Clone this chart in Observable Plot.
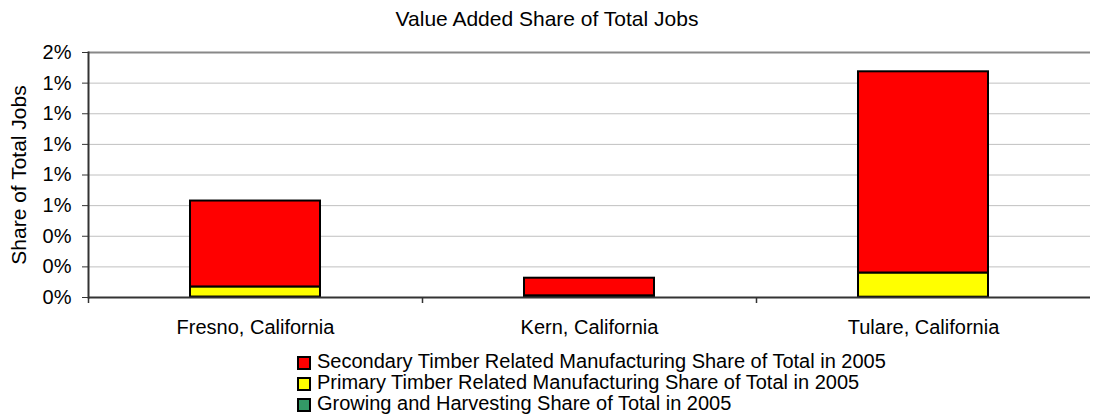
<!DOCTYPE html>
<html>
<head>
<meta charset="utf-8">
<script src="https://cdn.jsdelivr.net/npm/d3@7"></script>
<script src="https://cdn.jsdelivr.net/npm/@observablehq/plot@0.6"></script>
<style>
  html, body { margin: 0; padding: 0; background: #fff; }
  body { width: 1094px; height: 416px; overflow: hidden; font-family: "Liberation Sans", Arial, sans-serif; color: #000; }
  #title { height: 31px; box-sizing: border-box; padding-top: 7px; line-height: 24px; font-size: 21px; text-align: center; }
  #legend { padding-left: 297px; font-size: 20px; line-height: 21px; margin-top: -2px; }
  .item { display: flex; align-items: flex-start; height: 21px; white-space: nowrap; }
  .sw { width: 10px; height: 10px; border: 2px solid #000; margin-top: 5px; margin-right: 6px; flex: none; }
</style>
</head>
<body>
<div id="title"></div>
<div id="chart"></div>
<div id="legend"></div>
<script>
const titleText = "Value Added Share of Total Jobs";
const yLabel = "Share of Total Jobs";
const categories = ["Fresno, California", "Kern, California", "Tulare, California"];
const seriesNames = [
  "Growing and Harvesting Share of Total in 2005",
  "Primary Timber Related Manufacturing Share of Total in 2005",
  "Secondary Timber Related Manufacturing Share of Total in 2005"
];
const seriesColors = ["#339966", "#FFFF00", "#FF0000"];
const growing = [0.00003, 0.00003, 0.00002];
const primary = [0.00066, 0.00008, 0.00158];
const secondary = [0.00561, 0.00115, 0.01314];
const yTicks = [0, 0.002, 0.004, 0.006, 0.008, 0.010, 0.012, 0.014, 0.016];
const legendOrder = [2, 1, 0];

const seriesValues = [growing, primary, secondary];
const rows = [];
seriesNames.forEach((s, si) => categories.forEach((c, ci) => rows.push({category: c, series: s, value: seriesValues[si][ci]})));

document.getElementById("title").textContent = titleText;

const width = 1094, height = 322, marginLeft = 88, marginRight = 4, marginTop = 21, marginBottom = 56;
const step = (width - marginLeft - marginRight) / categories.length;
const fmt = d3.format(".0%");

const chart = Plot.plot({
  width, height, marginLeft, marginRight, marginTop, marginBottom,
  style: {fontFamily: '"Liberation Sans", Arial, sans-serif', fontSize: "20px", color: "#000", background: "#fff"},
  x: {domain: categories, paddingInner: 0.61, paddingOuter: 0.305, axis: null},
  y: {domain: [0, 0.016], axis: null},
  color: {domain: seriesNames, range: seriesColors},
  marks: [
    Plot.ruleY(yTicks.slice(1, -1), {stroke: "#c0c0c0", strokeWidth: 1}),
    Plot.ruleY([yTicks[yTicks.length - 1]], {stroke: "#888", strokeWidth: 2}),
    Plot.barY(rows, {x: "category", y: "value", fill: "series", stroke: "#000", strokeWidth: 2}),
    Plot.ruleY([0], {stroke: "#333", strokeWidth: 2}),
    Plot.frame({anchor: "left", stroke: "#333", strokeWidth: 2}),
    Plot.ruleX(categories, {x: d => d, y1: 0, y2: 0, dx: -step / 2, insetBottom: -6, stroke: "#333", strokeWidth: 1.5}),
    Plot.axisY({ticks: yTicks, tickFormat: fmt, tickSize: 6, tickPadding: 11, fontSize: 20, label: null, stroke: "#333"}),
    Plot.axisX({tickSize: 0, tickPadding: 22, fontSize: 20, label: null}),
    Plot.text([yLabel], {frameAnchor: "left", dx: -69, rotate: -90, text: d => d, fontSize: 21, textAnchor: "middle"})
  ]
});
document.getElementById("chart").appendChild(chart);

const legend = document.getElementById("legend");
legendOrder.forEach(i => {
  const item = document.createElement("div");
  item.className = "item";
  const sw = document.createElement("span");
  sw.className = "sw";
  sw.style.background = seriesColors[i];
  const t = document.createElement("span");
  t.textContent = seriesNames[i];
  item.appendChild(sw);
  item.appendChild(t);
  legend.appendChild(item);
});
</script>
</body>
</html>
